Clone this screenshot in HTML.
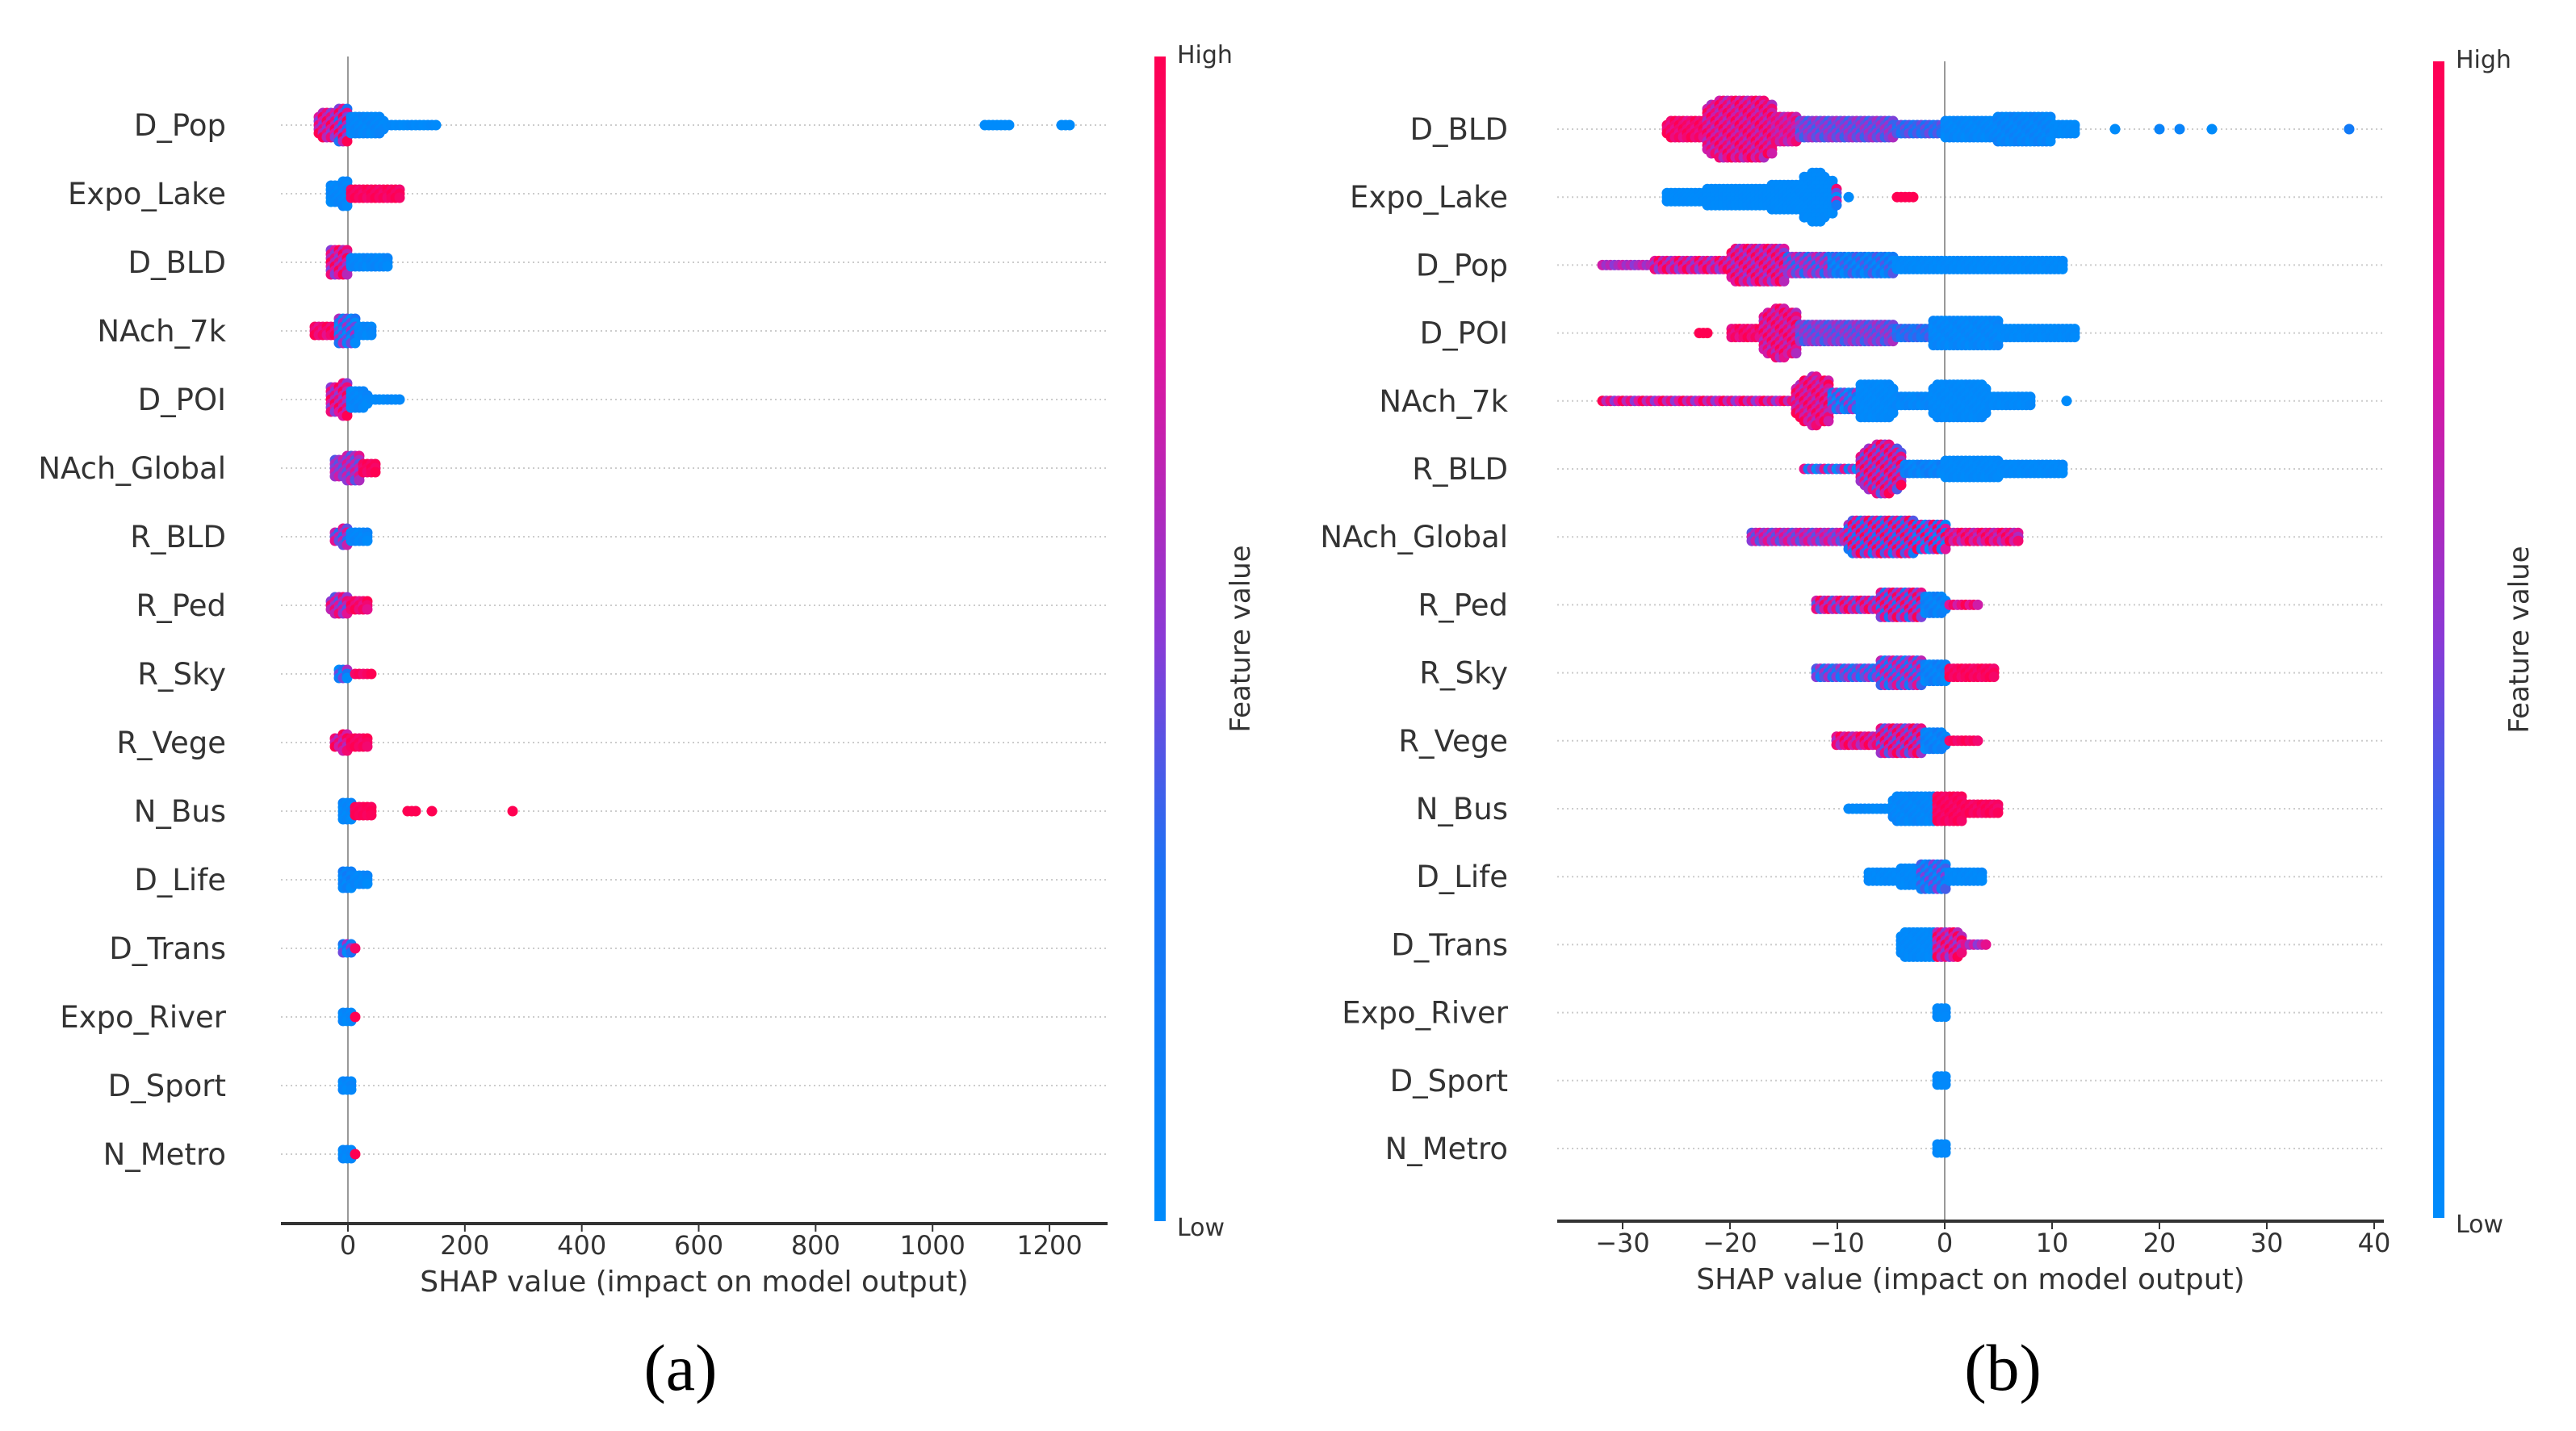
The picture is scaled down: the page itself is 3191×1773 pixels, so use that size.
<!DOCTYPE html>
<html><head><meta charset="utf-8">
<style>
html,body{margin:0;padding:0;background:#fff;}
svg{display:block;}
text{font-family:"DejaVu Sans","Liberation Sans",sans-serif;}
text.cap{font-family:"Liberation Serif",serif;}
</style></head>
<body>
<svg id="chart" width="3191" height="1773" viewBox="0 0 3191 1773" xmlns="http://www.w3.org/2000/svg">
<defs>
<linearGradient id="cmap" x1="0" y1="1" x2="0" y2="0">
<stop offset="0" stop-color="#008bfb"/><stop offset="0.3" stop-color="#1a72f5"/>
<stop offset="0.5" stop-color="#8a3ad6"/><stop offset="0.75" stop-color="#e0149c"/>
<stop offset="1" stop-color="#ff0052"/>
</linearGradient>
</defs>
</svg>
<script>
// ---- Panel (a) data ----
const featuresA = ["D_Pop","Expo_Lake","D_BLD","NAch_7k","D_POI","NAch_Global","R_BLD","R_Ped","R_Sky","R_Vege","N_Bus","D_Life","D_Trans","Expo_River","D_Sport","N_Metro"];
// segments per row: [xStart, xEnd, halfHeightDots, colorLow, colorHigh]
const segmentsA = [
 [[-50,-15,3,0.5,1],[-15,0,4,0.3,1],[0,60,2,0,0.1],[60,150,0,0,0.05],[1090,1130,0,0,0],[1220,1235,0,0,0]],
 [[-30,0,3,0,0.1],[5,90,1,0.9,1]],
 [[-30,0,4,0.5,1],[0,70,1,0,0.1]],
 [[-60,-20,1,0.8,1],[-15,10,4,0,0.6],[10,40,1,0,0.1]],
 [[-30,0,4,0.5,1],[0,30,2,0,0.1],[30,90,0,0,0.05]],
 [[-25,0,2,0.4,0.7],[0,20,3,0.4,0.8],[20,45,1,0.9,1]],
 [[-25,0,2,0.3,0.8],[0,35,1,0,0.1]],
 [[-30,0,2,0.4,0.9],[0,30,1,0.8,1]],
 [[-15,0,3,0,0.6],[10,40,0,0.9,1]],
 [[-25,0,2,0.6,1],[0,35,1,0.9,1]],
 [[-10,5,3,0,0.1],[10,40,1,0.95,1],[100,115,0,1,1],[145,145,0,1,1],[280,280,0,1,1]],
 [[-10,5,3,0,0.2],[10,30,1,0,0.1]],
 [[-10,5,3,0,0.6],[5,15,0,0.9,1]],
 [[-10,5,3,0,0.1],[10,10,0,1,1]],
 [[-5,5,3,0,0.1],[8,8,0,1,1]],
 [[-5,5,3,0,0.1],[15,15,0,1,1]]
];
const ticksA = [0,200,400,600,800,1000,1200];
// ---- Panel (b) data ----
const featuresB = ["D_BLD","Expo_Lake","D_Pop","D_POI","NAch_7k","R_BLD","NAch_Global","R_Ped","R_Sky","R_Vege","N_Bus","D_Life","D_Trans","Expo_River","D_Sport","N_Metro"];
const segmentsB = [
 [[-26,-22,2,0.8,1],[-22,-16,6,0.6,1],[-16,-14,3,0.6,0.9],[-14,-5,2,0.35,0.6],[-5,0,1,0.25,0.45],[0,5,2,0,0.1],[5,10,3,0,0.15],[10,12,1,0,0.05],[16,16,0,0,0],[20,20,0,0.1,0.1],[22,22,0,0.1,0.1],[25,25,0,0,0],[37.5,37.5,0,0.2,0.2]],
 [[-26,-22,1,0,0.02],[-22,-16,2,0,0.02],[-16,-13,3,0,0.02],[-13,-10.5,5,0,0.02],[-10.5,-10,2,0,0.9],[-9,-9,0,0,0],[-4.5,-3,0,1,1]],
 [[-32,-27,0,0.5,0.7],[-27,-20,1,0.5,1],[-20,-15,4,0.5,1],[-15,-11,2,0.3,0.7],[-11,-5,2,0,0.4],[-5,11,1,0,0.05]],
 [[-23,-22,0,1,1],[-20,-17,1,0.8,1],[-17,-14,5,0.6,1],[-14,-5,2,0.35,0.6],[-5,-1,1,0.2,0.4],[-1,5,3,0,0.1],[5,12,1,0,0.05]],
 [[-32,-14,0,0.5,1],[-14,-11,5,0.6,1],[-11,-8,2,0,0.6],[-8,-5,4,0,0.05],[-5,-1,1,0,0.1],[-1,4,4,0,0.05],[4,8,1,0,0.05],[11.5,11.5,0,0,0]],
 [[-13,-8,0,0,0.8],[-8,-4,5,0.4,1],[-4,0,1,0,0.2],[0,5,2,0,0.05],[5,11,1,0,0.05]],
 [[-18,-9,1,0.4,0.8],[-9,-3,4,0.2,1],[-3,0,3,0,1],[0,7,1,0.6,1]],
 [[-12,-6,1,0.4,1],[-6,-2,3,0.3,1],[-2,0,2,0,0.2],[0,3,0,0.7,1]],
 [[-12,-6,1,0.2,0.6],[-6,-2,3,0.2,0.8],[-2,0,2,0,0.2],[0,4.5,1,0.9,1]],
 [[-10,-6,1,0.6,1],[-6,-2,3,0.4,1],[-2,0,2,0,0.2],[0,3,0,0.9,1]],
 [[-9,-5,0,0,0.05],[-5,-1,3,0,0.1],[-1,1.5,3,0.9,1],[1.5,5,1,0.9,1]],
 [[-7,-4,1,0,0.05],[-4,-2,2,0,0.05],[-2,0,3,0,0.5],[0,3.5,1,0,0.05]],
 [[-4,-1,3,0,0.05],[-1,1.5,3,0.5,1],[1.5,4,0,0.5,0.8]],
 [[-0.8,0,2,0,0.05]],
 [[-0.8,0,2,0,0.05]],
 [[-0.8,0,2,0,0.05]]
];
const ticksB = [-30,-20,-10,0,10,20,30,40];

const NS = "http://www.w3.org/2000/svg";
const svg = document.getElementById('chart');
function mk(tag, attrs, parent){ const e=document.createElementNS(NS,tag); for(const k in attrs) e.setAttribute(k,attrs[k]); (parent||svg).appendChild(e); return e; }
function lerp(a,b,t){return a+(b-a)*t;}
const stops=[[0,[0,139,251]],[0.3,[26,114,245]],[0.5,[138,58,214]],[0.75,[224,20,156]],[1,[255,0,82]]];
function cmap(v){ v=Math.max(0,Math.min(1,v)); for(let i=1;i<stops.length;i++){ if(v<=stops[i][0]){ const t=(v-stops[i-1][0])/(stops[i][0]-stops[i-1][0]); const a=stops[i-1][1],b=stops[i][1]; return `rgb(${Math.round(lerp(a[0],b[0],t))},${Math.round(lerp(a[1],b[1],t))},${Math.round(lerp(a[2],b[2],t))})`; } } return 'rgb(255,0,82)'; }

const STEP=5;
function panel(cfg){
  const g = mk('g',{});
  
  
  const xs = v => cfg.x0 + v*cfg.k;
  const ys = i => cfg.yTop + i*cfg.dy;
  cfg.features.forEach((f,i)=>{
    const gl = mk('line',{x1:cfg.ax1,x2:cfg.ax2,y1:ys(i),y2:ys(i),stroke:'#ccc','stroke-width':2,'stroke-dasharray':'2,4'},g);
    
    
    const t = mk('text',{x:cfg.labelX,y:ys(i)+13,'text-anchor':'end','font-size':37,fill:'#333'},g);
    t.textContent=f;
    
    
  });
  const zl = mk('line',{x1:xs(0),x2:xs(0),y1:cfg.zTop,y2:cfg.axY,stroke:'#999','stroke-width':2},g);
  
  
  cfg.segs.forEach((row,i)=>{
    const rg = mk('g',{},g);
    
    
    const cols=new Map();
    row.forEach(s=>{
      const p1=xs(s[0]), p2=xs(s[1]);
      const b1=Math.round(p1/STEP), b2=Math.round(p2/STEP);
      for(let b=b1;b<=b2;b++){
        const prev=cols.get(b);
        const h=s[2]*6;
        if(!prev||prev.h<h) cols.set(b,{h:h,s:s});
      }
    });
    const W=4;
    cols.forEach((c,b)=>{
      let sum=0;
      for(let d=-W;d<=W;d++){ const o=cols.get(b+d); sum+= o?o.h:0; }
      let h=Math.min(c.h, sum/(2*W+1)+3);
      const nj=Math.floor(h/5);
      const px=b*STEP;
      for(let j=-nj;j<=nj;j++){
        const t=((b*7+(j+20)*3)%5)/4;
        mk('circle',{cx:px,cy:ys(i)+j*5,r:6.5,fill:cmap(lerp(c.s[3],c.s[4],t))},rg);
      }
    });
  });
  const ax = mk('line',{x1:cfg.ax1,x2:cfg.ax2,y1:cfg.axY,y2:cfg.axY,stroke:'#333','stroke-width':4},g);
  
  
  cfg.ticks.forEach(v=>{
    mk('line',{x1:xs(v),x2:xs(v),y1:cfg.axY,y2:cfg.axY+10,stroke:'#333','stroke-width':2},g);
    const t=mk('text',{x:xs(v),y:cfg.axY+38,'text-anchor':'middle','font-size':32,fill:'#333'},g);
    t.textContent = v<0 ? '\u2212'+(-v) : String(v);
    
    
  });
  const xt=mk('text',{x:(cfg.ax1+cfg.ax2)/2,y:cfg.axY+84,'text-anchor':'middle','font-size':36,fill:'#333'},g);
  xt.textContent='SHAP value (impact on model output)';
  
  
  const cb=mk('rect',{x:cfg.cbX,y:cfg.cbTop,width:14,height:cfg.cbBot-cfg.cbTop,fill:'url(#cmap)'},g);
  
  
  const hi=mk('text',{x:cfg.cbX+28,y:cfg.cbTop+8,'font-size':30,fill:'#333'},g); hi.textContent='High';
   
  const lo=mk('text',{x:cfg.cbX+28,y:cfg.cbBot+18,'font-size':30,fill:'#333'},g); lo.textContent='Low';
   
  const fv=mk('text',{x:0,y:0,'text-anchor':'middle','font-size':34,fill:'#333',transform:`translate(${cfg.cbX+118},${(cfg.cbTop+cfg.cbBot)/2}) rotate(-90)`},g);
  fv.textContent='Feature value';
   
  const pl=mk('text',{x:cfg.capX,y:1722,'text-anchor':'middle','font-size':82,fill:'#000','class':'cap'},g);
  pl.textContent=cfg.cap;
   
}
panel({name:'panel-a',features:featuresA,segs:segmentsA,ticks:ticksA,x0:431,k:0.7242,yTop:155,dy:85.0,labelX:280,
  ax1:348,ax2:1372,axY:1516,zTop:70,cbX:1430,cbTop:70,cbBot:1513,capX:843,cap:'(a)'});
panel({name:'panel-b',features:featuresB,segs:segmentsB,ticks:ticksB,x0:2409,k:13.3,yTop:160,dy:84.2,labelX:1868,
  ax1:1929,ax2:2953,axY:1513,zTop:76,cbX:3014,cbTop:76,cbBot:1509,capX:2481,cap:'(b)'});
</script>
</body></html>
